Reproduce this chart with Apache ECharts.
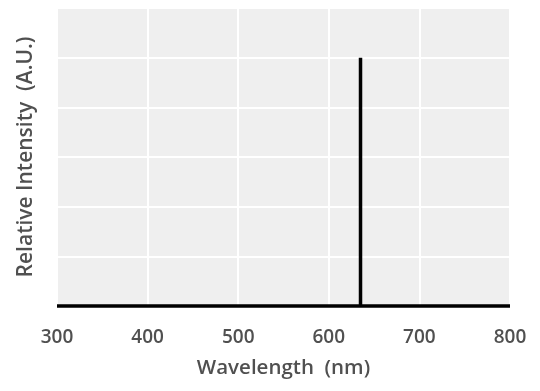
<!DOCTYPE html>
<html>
<head>
<meta charset="utf-8">
<script src="https://cdn.jsdelivr.net/npm/echarts@6/dist/echarts.min.js"></script>
<style>html,body{margin:0;padding:0;background:#fff}#c{width:540px;height:391px}</style>
</head>
<body>
<div id="c"></div>
<script>
const wavelength = [300, 635, 635, 635, 800];
const intensity = [0, 0, 5, 0, 0];
const xTicks = [300, 400, 500, 600, 700, 800];
const xTitle = 'Wavelength  (nm)';
const yTitle = 'Relative Intensity  (A.U.)';

const chart = echarts.init(document.getElementById('c'), null, {renderer: 'canvas'});
const font = '"Open Sans", sans-serif';
chart.setOption({
  animation: false,
  grid: {left: 57, right: 30, top: 8, bottom: 85, show: true, backgroundColor: '#efefef', borderWidth: 0},
  xAxis: {
    type: 'value', min: xTicks[0], max: xTicks[xTicks.length - 1], interval: 100,
    axisLine: {show: false}, axisTick: {show: false},
    axisLabel: {color: '#505050', fontSize: 19, fontWeight: 600, fontFamily: font, margin: 22},
    splitLine: {show: true, lineStyle: {color: '#ffffff', width: 2}},
    name: xTitle, nameLocation: 'middle', nameGap: 52,
    nameTextStyle: {color: '#505050', fontSize: 20.5, fontWeight: 600, fontFamily: font}
  },
  yAxis: {
    type: 'value', min: 0, max: 6, interval: 1,
    axisLine: {show: false}, axisTick: {show: false}, axisLabel: {show: false},
    splitLine: {show: true, lineStyle: {color: '#ffffff', width: 2}},
    name: yTitle, nameLocation: 'middle', nameGap: 20, nameRotate: 90,
    nameTextStyle: {color: '#505050', fontSize: 21, fontWeight: 600, fontFamily: font}
  },
  series: [{
    type: 'line',
    data: wavelength.map((w, i) => [w, intensity[i]]),
    symbol: 'none',
    lineStyle: {color: '#000000', width: 3.5},
    clip: false
  }]
});
</script>
</body>
</html>
